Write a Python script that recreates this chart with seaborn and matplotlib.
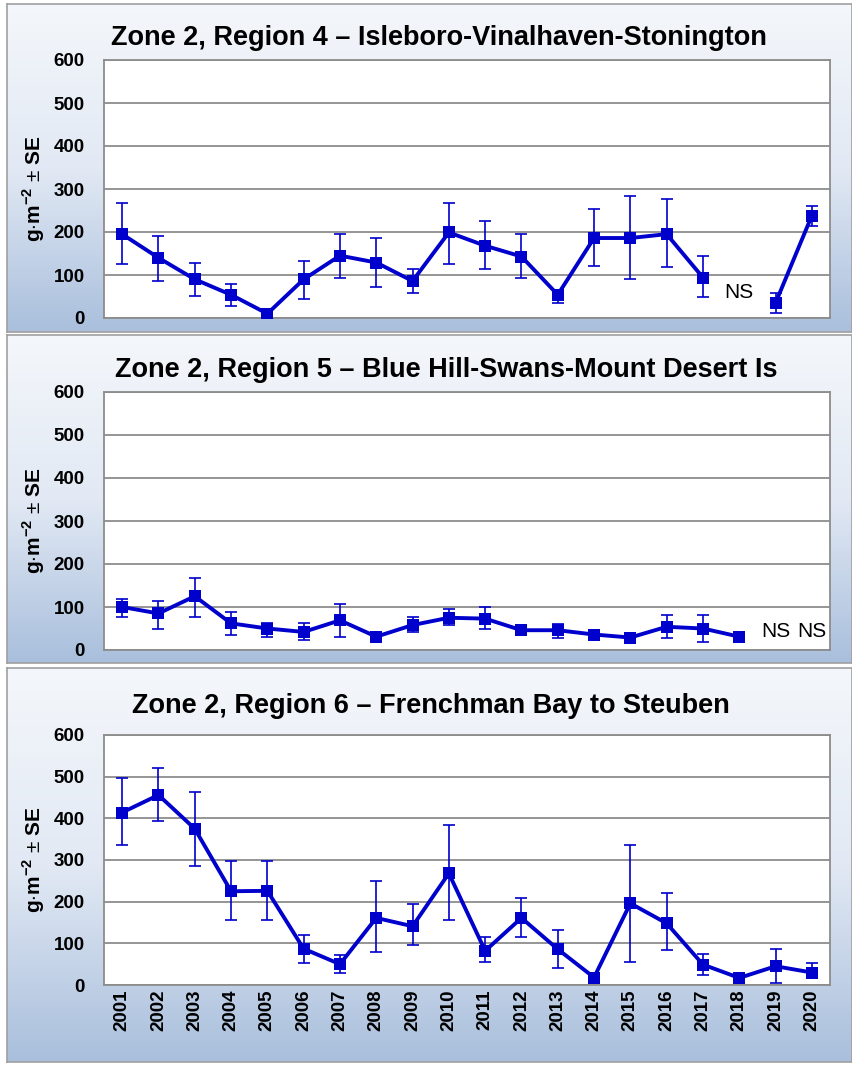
import numpy as np
import pandas as pd
import matplotlib
matplotlib.use('Agg')
import matplotlib.pyplot as plt
import seaborn as sns
from matplotlib.colors import LinearSegmentedColormap

nan = np.nan
years = list(range(2001, 2021))

# Region 4 - Isleboro-Vinalhaven-Stonington (2018 not sampled)
r4_val = [195, 140, 90, 54, 10, 90, 145, 129, 86, 199, 168, 143, 54, 186, 186, 195, 94, nan, 35, 238]
r4_lo = [125, 86, 51, 28, 7, 44, 94, 71, 58, 125, 115, 94, 36, 121, 90, 118, 48, nan, 12, 213]
r4_hi = [268, 190, 129, 78, 14, 133, 195, 187, 113, 268, 226, 195, 62, 253, 284, 276, 145, nan, 58, 261]

# Region 5 - Blue Hill-Swans-Mount Desert Is (2019, 2020 not sampled)
r5_val = [100, 85, 125, 62, 50, 42, 69, 31, 58, 75, 73, 46, 46, 36, 29, 54, 50, 31, nan, nan]
r5_lo = [77, 50, 77, 35, 31, 23, 31, 27, 42, 59, 50, 42, 28, 30, 22, 27, 19, 20, nan, nan]
r5_hi = [119, 115, 168, 88, 63, 62, 108, 35, 77, 96, 100, 50, 60, 44, 37, 81, 81, 40, nan, nan]

# Region 6 - Frenchman Bay to Steuben
r6_val = [414, 456, 375, 225, 226, 87, 50, 161, 141, 268, 82, 161, 86, 18, 196, 148, 49, 17, 45, 30]
r6_lo = [337, 393, 286, 155, 155, 52, 28, 79, 95, 155, 56, 115, 40, 14, 56, 83, 24, 13, 4, 16]
r6_hi = [496, 520, 464, 298, 298, 119, 71, 250, 194, 385, 115, 210, 131, 22, 337, 222, 75, 22, 87, 52]

titles = ['Zone 2, Region 4 \u2013 Isleboro-Vinalhaven-Stonington',
          'Zone 2, Region 5 \u2013 Blue Hill-Swans-Mount Desert Is',
          'Zone 2, Region 6 \u2013 Frenchman Bay to Steuben']
ns_marks = [[(2018, 60)], [(2019, 42), (2020, 42)], []]

sns.set_theme(style='white')
plt.rcParams['font.family'] = ['Liberation Sans', 'DejaVu Sans']
plt.rcParams['mathtext.fontset'] = 'custom'
plt.rcParams['mathtext.rm'] = 'Liberation Sans'
plt.rcParams['mathtext.bf'] = 'Liberation Sans:bold'

W, H = 852, 1066
fig = plt.figure(figsize=(W / 100, H / 100), dpi=100)
fig.patch.set_facecolor('white')


def rect(x0, y0, x1, y1):
    # pixel box (top-left origin) -> figure fraction
    return [x0 / W, 1 - y1 / H, (x1 - x0) / W, (y1 - y0) / H]


blue = '#0000cc'
grid_c = '#8c8c8c'
bg_cmap = LinearSegmentedColormap.from_list('bg', ['#f4f7fb', '#e2e9f4', '#a9bfdc'])
grad = np.linspace(0, 1, 256).reshape(-1, 1)

frames = [(7, 4, 852, 332), (7, 335, 852, 663), (7, 668, 852, 1062)]
plots = [(104, 60, 830, 318), (104, 392, 830, 650), (104, 735, 830, 985)]
title_pos = [(439, 38), (446, 370), (431, 706)]
data = [(r4_val, r4_lo, r4_hi), (r5_val, r5_lo, r5_hi), (r6_val, r6_lo, r6_hi)]

for i in range(3):
    bg = fig.add_axes(rect(*frames[i]), zorder=0)
    bg.imshow(grad, aspect='auto', cmap=bg_cmap, extent=[0, 1, 0, 1])
    bg.set_xticks([])
    bg.set_yticks([])
    for s in bg.spines.values():
        s.set_color('#a0a0a0')
        s.set_linewidth(1.2)

    ax = fig.add_axes(rect(*plots[i]), zorder=1)
    ax.set_facecolor('white')
    val, lo, hi = data[i]
    df = pd.DataFrame({'year': years, 'val': val, 'lo': lo, 'hi': hi})
    df['seg'] = df['val'].isna().cumsum()  # break the line at NS years
    ok = df.dropna(subset=['val'])

    ax.errorbar(ok['year'], ok['val'], yerr=[ok['val'] - ok['lo'], ok['hi'] - ok['val']],
                fmt='none', ecolor=blue, elinewidth=1.2, capsize=4, capthick=1.2, zorder=2)
    sns.lineplot(data=ok, x='year', y='val', units='seg', estimator=None, color=blue,
                 lw=2.8, marker='s', markersize=9, markeredgewidth=0, ax=ax, zorder=3)

    for x, y in ns_marks[i]:
        ax.text(x, y, 'NS', ha='center', va='center', fontsize=15, color='black')

    ax.set_xlim(2000.5, 2020.5)
    ax.set_ylim(0, 600)
    ax.set_yticks(range(0, 601, 100))
    ax.set_xticks(years)
    ax.grid(axis='y', color=grid_c, lw=1.3)
    ax.set_axisbelow(True)
    for s in ax.spines.values():
        s.set_color(grid_c)
        s.set_linewidth(1.3)
    ax.tick_params(axis='y', length=6, width=1.3, color=grid_c, direction='out',
                   pad=8, labelsize=13.5, labelcolor='black')
    for t in ax.get_yticklabels():
        t.set_fontweight('bold')
    ax.tick_params(axis='x', length=0, labelcolor='black')
    if i == 2:
        ax.set_xticklabels([str(y) for y in years], rotation=90, fontsize=13.5, fontweight='bold')
    else:
        ax.set_xticklabels([])
    ax.set_xlabel('')
    ax.set_ylabel(r'g$\cdot$m$^{\mathbf{-2}}$ $\pm$ SE', fontsize=15, fontweight='bold', color='black')
    ax.yaxis.set_label_coords(-0.078, 0.5)

    fig.text(title_pos[i][0] / W, 1 - title_pos[i][1] / H, titles[i], ha='center', va='center',
             fontsize=19.5, fontweight='bold', color='black')

fig.savefig('out.png', dpi=100)
